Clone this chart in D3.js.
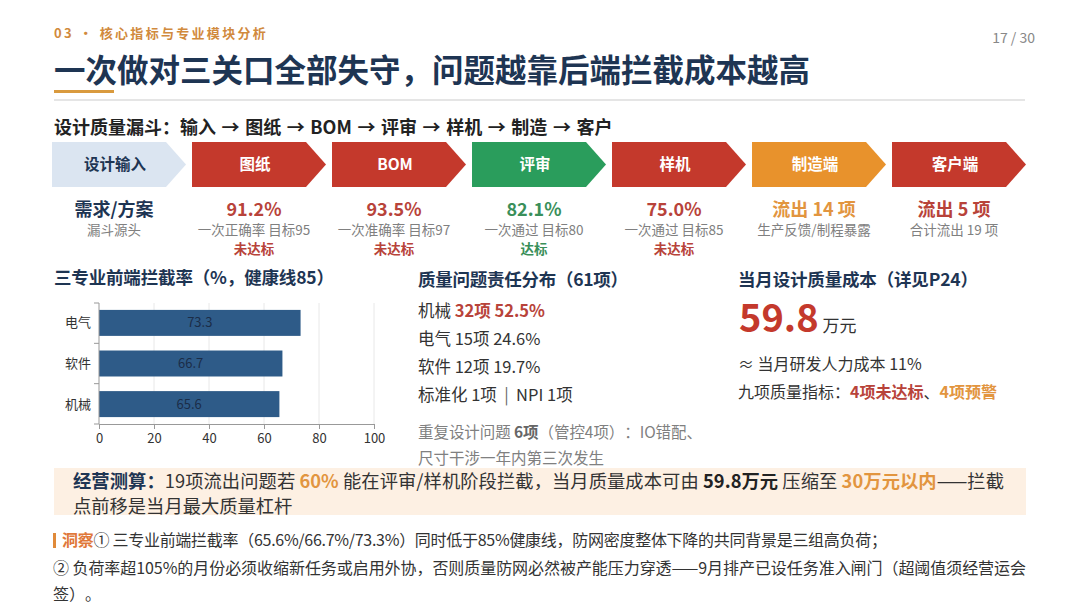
<!DOCTYPE html>
<html>
<head>
<meta charset="utf-8">
<title>设计质量漏斗</title>
<script src="https://cdn.jsdelivr.net/npm/d3@7"></script>
<style>
  html, body { margin: 0; padding: 0; background: #fff; }
  svg { display: block; font-family: "Noto Sans CJK SC", "Noto Sans", sans-serif; }
  text { white-space: pre; text-spacing-trim: space-all; }
</style>
</head>
<body>
<svg id="slide" width="1080" height="608"></svg>
<script>
// funnel stages
const stages = ['设计输入', '图纸', 'BOM', '评审', '样机', '制造端', '客户端'];
const stageStatus = ['source', 'fail', 'fail', 'pass', 'fail', 'warn', 'fail'];
const stageMain = ['需求/方案', '91.2%', '93.5%', '82.1%', '75.0%', '流出 14 项', '流出 5 项'];
const stageSub = ['漏斗源头', '一次正确率 目标95', '一次准确率 目标97', '一次通过 目标80', '一次通过 目标85', '生产反馈/制程暴露', '合计流出 19 项'];
const stageVerdict = ['', '未达标', '未达标', '达标', '未达标', '', ''];
const funnelPath = ['输入', '图纸', 'BOM', '评审', '样机', '制造', '客户'];

// front-end interception rate by discipline (%)
const disciplines = ['电气', '软件', '机械'];
const interceptRate = [73.3, 66.7, 65.6];
const rateTicks = [0, 20, 40, 60, 80, 100];
const healthLine = 85;

// quality issue responsibility (61 items)
const respNames = ['机械', '电气', '软件'];
const respCount = [32, 15, 12];
const respPct = [52.5, 24.6, 19.7];

const qualityCost = 59.8;

// palette
const navy = '#1e3553', red = '#c4392c', redText = '#b8433a',
      green = '#2a9d5c', greenText = '#3a8f5a',
      orange = '#e8922c', orangeText = '#e2953f', gray = '#808080', ink = '#333';
const chevronFill = { source: '#dbe5f1', fail: red, pass: green, warn: orange };
const mainFill = { source: navy, fail: redText, pass: greenText, warn: orangeText };

const svg = d3.select('#slide');

// text with styled runs: parts are strings or [string, {fill, bold, size}]
function rich(sel, x, y, parts, size, fill, len) {
  const t = sel.append('text').attr('x', x).attr('y', y)
    .attr('font-size', size).attr('fill', fill);
  if (len) t.attr('textLength', len).attr('lengthAdjust', 'spacing');
  parts.forEach(p => {
    const [s, st] = typeof p === 'string' ? [p, {}] : p;
    const ts = t.append('tspan').text(s);
    if (st.fill) ts.attr('fill', st.fill);
    if (st.bold) ts.attr('font-weight', 'bold');
    if (st.size) ts.attr('font-size', st.size);
  });
  return t;
}

function heading(x, y, s, len) {
  return svg.append('text').attr('x', x).attr('y', y)
    .attr('font-size', 17.5).attr('font-weight', 'bold').attr('fill', navy)
    .attr('textLength', len).attr('lengthAdjust', 'spacing')
    .text(s);
}

// header
svg.append('text').attr('x', 54).attr('y', 38)
  .attr('font-size', 13).attr('font-weight', 'bold').attr('fill', '#d18a3d')
  .attr('letter-spacing', 2.3).text('03 • 核心指标与专业模块分析');
svg.append('text').attr('x', 1035).attr('y', 43).attr('text-anchor', 'end')
  .attr('font-size', 14).attr('fill', '#888').text('17 / 30');
svg.append('text').attr('x', 54).attr('y', 82)
  .attr('font-size', 31.5).attr('font-weight', 'bold').attr('fill', navy)
  .text('一次做对三关口全部失守，问题越靠后端拦截成本越高');
svg.append('rect').attr('x', 54).attr('y', 90).attr('width', 60).attr('height', 3).attr('fill', '#d99a3e');
svg.append('line').attr('x1', 54).attr('x2', 1025).attr('y1', 100).attr('y2', 100)
  .attr('stroke', '#dddddd').attr('stroke-width', 1.5);

svg.append('text').attr('x', 54).attr('y', 134)
  .attr('font-size', 18).attr('font-weight', 'bold').attr('fill', '#222')
  .attr('word-spacing', 1.5)
  .text('设计质量漏斗：' + funnelPath.join(' → '));

// funnel chevrons
const fx = d3.scaleBand().domain(stages).range([52, 1026]).paddingInner(0.043);
const cw = fx.bandwidth(), ch = 45, tip = 20, cy0 = 142;
const chev = svg.append('g').selectAll('g').data(stages).join('g')
  .attr('transform', d => `translate(${fx(d)},${cy0})`);
chev.append('path')
  .attr('d', `M0,0H${cw - tip}L${cw},${ch / 2}L${cw - tip},${ch}H0Z`)
  .attr('fill', (d, i) => chevronFill[stageStatus[i]]);
chev.append('text')
  .attr('x', (cw - tip) / 2 + 6).attr('y', ch / 2 + 5.5).attr('text-anchor', 'middle')
  .attr('font-size', 15.5).attr('font-weight', 'bold')
  .attr('fill', (d, i) => stageStatus[i] === 'source' ? navy : '#fff')
  .text(d => d);

const metric = svg.append('g').selectAll('g').data(stages).join('g')
  .attr('transform', d => `translate(${fx(d) + (cw - tip) / 2 + 5},0)`)
  .attr('text-anchor', 'middle');
metric.append('text').attr('y', 215.5)
  .attr('font-size', 18).attr('font-weight', 'bold')
  .attr('fill', (d, i) => mainFill[stageStatus[i]])
  .text((d, i) => stageMain[i]);
metric.append('text').attr('y', 235).attr('font-size', 13.5).attr('fill', gray)
  .text((d, i) => stageSub[i]);
metric.append('text').attr('y', 254).attr('font-size', 13.5).attr('font-weight', 'bold')
  .attr('fill', (d, i) => stageStatus[i] === 'pass' ? greenText : redText)
  .text((d, i) => stageVerdict[i]);

// interception rate bar chart
heading(54, 284, `三专业前端拦截率（%，健康线${healthLine}）`, 280);

const x = d3.scaleLinear().domain([0, 100]).range([99, 374]);
const y = d3.scaleBand().domain(disciplines).range([303, 424]).paddingInner(0.36).paddingOuter(0.17);
const chart = svg.append('g');

chart.append('g').selectAll('line').data(rateTicks.slice(1)).join('line')
  .attr('x1', d => x(d)).attr('x2', d => x(d))
  .attr('y1', y.range()[0]).attr('y2', y.range()[1])
  .attr('stroke', '#e8e8e8');

chart.append('g').selectAll('rect').data(disciplines).join('rect')
  .attr('x', x(0)).attr('y', d => y(d))
  .attr('width', (d, i) => x(interceptRate[i]) - x(0))
  .attr('height', y.bandwidth())
  .attr('fill', '#2e5b88');

chart.append('g').selectAll('text').data(disciplines).join('text')
  .attr('x', (d, i) => x(interceptRate[i] / 2))
  .attr('y', d => y(d) + y.bandwidth() / 2 + 4.5)
  .attr('text-anchor', 'middle').attr('font-size', 13).attr('fill', '#1b2d48')
  .text((d, i) => interceptRate[i].toFixed(1));

const xAxis = chart.append('g').attr('transform', `translate(0,${y.range()[1]})`)
  .call(d3.axisBottom(x).tickValues(rateTicks).tickSize(5).tickPadding(5).tickSizeOuter(0));
xAxis.select('.domain').attr('stroke', '#999');
xAxis.selectAll('.tick line').attr('stroke', '#999');
xAxis.selectAll('.tick text').attr('font-size', 13).attr('fill', '#333')
  .attr('font-family', '"Noto Sans CJK SC", sans-serif');

// category axis with boundary ticks
const [yTop, yBot] = y.range();
chart.append('line').attr('x1', x(0)).attr('x2', x(0)).attr('y1', yTop).attr('y2', yBot).attr('stroke', '#999');
chart.append('g').selectAll('line').data(d3.range(disciplines.length + 1)).join('line')
  .attr('x1', x(0) - 5).attr('x2', x(0))
  .attr('y1', i => yTop + i * (yBot - yTop) / disciplines.length)
  .attr('y2', i => yTop + i * (yBot - yTop) / disciplines.length)
  .attr('stroke', '#999');
chart.append('g').selectAll('text').data(disciplines).join('text')
  .attr('x', x(0) - 8).attr('y', d => y(d) + y.bandwidth() / 2 + 4.5)
  .attr('text-anchor', 'end').attr('font-size', 13).attr('fill', '#333')
  .text(d => d);

// responsibility distribution
const mid = svg.append('g');
heading(418, 286, `质量问题责任分布（${d3.sum(respCount) + 2}项）`, 210);
respNames.forEach((n, i) => {
  const run = `${respCount[i]}项 ${respPct[i]}%`;
  rich(mid, 418, 317 + i * 28, [n + ' ', i === 0 ? [run, { fill: redText, bold: true }] : run], 16.5, ink);
});
rich(mid, 418, 317 + 3 * 28, ['标准化 1项 ', [' | ', { fill: '#666' }], ' NPI 1项'], 16.5, ink);
rich(mid, 418, 437.5, ['重复设计问题 ', ['6项', { bold: true, fill: '#666' }], '（管控4项）：IO错配、'], 15.5, gray, 284);
rich(mid, 418, 464, ['尺寸干涉一年内第三次发生'], 15.5, gray);

// monthly quality cost
const right = svg.append('g');
heading(738, 286, '当月设计质量成本（详见P24）', 240);
rich(right, 739, 332, [[qualityCost.toFixed(1), { size: 38, bold: true, fill: red }], [' 万元', { size: 17 }]], 17, ink);
rich(right, 738, 369.5, ['≈ 当月研发人力成本 11%'], 16, ink);
rich(right, 738, 397.5, ['九项质量指标：', ['4项未达标', { bold: true, fill: redText }], '、', ['4项预警', { bold: true, fill: orangeText }]], 16, ink);

// business estimate box
svg.append('rect').attr('x', 54).attr('y', 468).attr('width', 972).attr('height', 47).attr('fill', '#fdf0e3');
rich(svg, 73, 488, [['经营测算：', { bold: true, fill: navy }], '19项流出问题若 ', ['60%', { bold: true, fill: orangeText }],
  ' 能在评审/样机阶段拦截，当月质量成本可由 ', [`${qualityCost}万元`, { bold: true, fill: '#222' }],
  ' 压缩至 ', ['30万元以内', { bold: true, fill: orangeText }], '——拦截'], 18.3, ink, 931);
rich(svg, 73, 512.5, ['点前移是当月最大质量杠杆'], 18.3, ink);

// insight
const rates = interceptRate.slice().sort(d3.ascending).map(v => v.toFixed(1) + '%').join('/');
svg.append('rect').attr('x', 53).attr('y', 533).attr('width', 3).attr('height', 15).attr('fill', '#e08a3a');
rich(svg, 62, 546, [['洞察', { bold: true, fill: '#e0783a' }], `① 三专业前端拦截率（${rates}）同时低于${healthLine}%健康线，防网密度整体下降的共同背景是三组高负荷；`], 16, ink, 825);
rich(svg, 53, 573.5, ['② 负荷率超105%的月份必须收缩新任务或启用外协，否则质量防网必然被产能压力穿透——9月排产已设任务准入闸门（超阈值须经营运会'], 16, ink, 973);
rich(svg, 53, 599.5, ['签）。'], 16, ink);
</script>
</body>
</html>
